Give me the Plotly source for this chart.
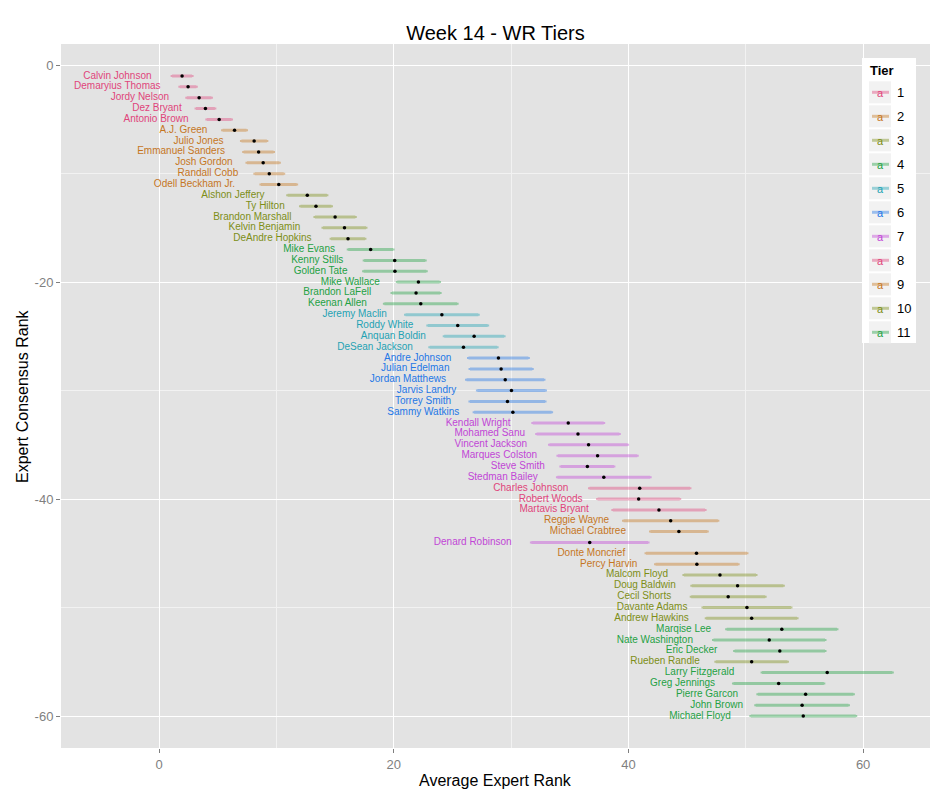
import plotly.graph_objects as go

# Week 14 WR tiers: consensus rank order, average expert rank and std dev
players = [
    "Calvin Johnson", "Demaryius Thomas", "Jordy Nelson", "Dez Bryant", "Antonio Brown",
    "A.J. Green", "Julio Jones", "Emmanuel Sanders", "Josh Gordon", "Randall Cobb",
    "Odell Beckham Jr.", "Alshon Jeffery", "Ty Hilton", "Brandon Marshall", "Kelvin Benjamin",
    "DeAndre Hopkins", "Mike Evans", "Kenny Stills", "Golden Tate", "Mike Wallace",
    "Brandon LaFell", "Keenan Allen", "Jeremy Maclin", "Roddy White", "Anquan Boldin",
    "DeSean Jackson", "Andre Johnson", "Julian Edelman", "Jordan Matthews", "Jarvis Landry",
    "Torrey Smith", "Sammy Watkins", "Kendall Wright", "Mohamed Sanu", "Vincent Jackson",
    "Marques Colston", "Steve Smith", "Stedman Bailey", "Charles Johnson", "Robert Woods",
    "Martavis Bryant", "Reggie Wayne", "Michael Crabtree", "Denard Robinson", "Donte Moncrief",
    "Percy Harvin", "Malcom Floyd", "Doug Baldwin", "Cecil Shorts", "Davante Adams",
    "Andrew Hawkins", "Marqise Lee", "Nate Washington", "Eric Decker", "Rueben Randle",
    "Larry Fitzgerald", "Greg Jennings", "Pierre Garcon", "John Brown", "Michael Floyd",
]
avg_rank = [
    1.96, 2.47, 3.41, 3.95, 5.12, 6.43, 8.1, 8.48, 8.87, 9.39,
    10.2, 12.63, 13.37, 15.0, 15.8, 16.1, 18.03, 20.08, 20.1, 22.1,
    21.9, 22.3, 24.1, 25.45, 26.85, 25.94, 28.92, 29.15, 29.5, 30.03,
    29.69, 30.15, 34.87, 35.7, 36.6, 37.37, 36.5, 37.9, 40.96, 40.87,
    42.6, 43.6, 44.3, 36.7, 45.8, 45.83, 47.8, 49.3, 48.5, 50.1,
    50.5, 53.07, 52.0, 52.9, 50.5, 56.94, 52.8, 55.1, 54.8, 54.9,
]
std_dev = [
    0.85, 0.7, 1.05, 0.8, 1.05, 1.02, 1.08, 1.27, 1.38, 1.23,
    1.52, 1.67, 1.32, 1.72, 1.83, 1.44, 1.91, 2.6, 2.67, 1.8,
    2.05, 3.1, 3.1, 2.55, 2.55, 2.87, 2.55, 2.65, 3.3, 2.9,
    3.2, 3.3, 3.02, 3.52, 3.33, 3.38, 2.26, 3.95, 4.28, 3.5,
    3.93, 4.02, 2.42, 4.97, 4.3, 3.52, 3.07, 3.9, 3.15, 3.75,
    3.87, 4.7, 4.75, 3.85, 3.05, 5.55, 3.85, 4.07, 3.95, 4.47,
]
tiers = (
    [1] * 5 + [2] * 6 + [3] * 5 + [4] * 6 + [5] * 4 + [6] * 6 + [7] * 6
    + [8] * 3 + [9] * 2 + [7] + [9] * 2 + [10] * 5
    + [11, 11, 11, 10, 11, 11, 11, 11, 11]
)
tier_levels = list(range(1, 12))
x_ticks = [0, 20, 40, 60]
y_ticks = [0, -20, -40, -60]

# colour cycle used for the tiers (7 colours, repeating)
palette = ["#E0457B", "#C5761F", "#7D8E17", "#24A144", "#1FA2B3", "#2477E6", "#C146D6"]


def rgba(hex_col, a):
    h = hex_col.lstrip("#")
    r, g, b = int(h[0:2], 16), int(h[2:4], 16), int(h[4:6], 16)
    return f"rgba({r},{g},{b},{a})"


def tier_color(t):
    return palette[(t - 1) % len(palette)]


consensus = [-(i + 1) for i in range(len(players))]

fig = go.Figure()

# error bars + mean points, one trace per tier
for t in tier_levels:
    idx = [i for i, tt in enumerate(tiers) if tt == t]
    fig.add_trace(go.Scatter(
        x=[avg_rank[i] for i in idx],
        y=[consensus[i] for i in idx],
        mode="markers",
        marker=dict(color="black", size=3.5),
        error_x=dict(type="data", array=[std_dev[i] for i in idx], symmetric=True,
                     color=rgba(tier_color(t), 0.42), thickness=3, width=1),
        showlegend=False,
        hoverinfo="skip",
    ))

# player labels, centred left of the bar
label_x = [a - s - len(p) / 3 for a, s, p in zip(avg_rank, std_dev, players)]
fig.add_trace(go.Scatter(
    x=label_x,
    y=consensus,
    mode="text",
    text=players,
    textposition="middle center",
    textfont=dict(family="Liberation Sans, Arial, sans-serif", size=10,
                  color=[tier_color(t) for t in tiers]),
    showlegend=False,
    hoverinfo="skip",
))

# plot area in pixels: x 61..930, y 44..748
L, R, T, B = 61, 930, 44, 748


def px_x(p):
    return (p - L) / (R - L)


def px_y(p):
    return (B - p) / (B - T)


shapes = []
annotations = []

# manual ggplot-like legend
shapes.append(dict(type="rect", xref="paper", yref="paper",
                   x0=px_x(862), x1=px_x(916), y0=px_y(343), y1=px_y(58),
                   fillcolor="white", line=dict(width=0), layer="above"))
annotations.append(dict(xref="paper", yref="paper", x=px_x(868), y=px_y(70),
                        text="<b>Tier</b>", showarrow=False, xanchor="left", yanchor="middle",
                        font=dict(size=13, color="black")))
for k, t in enumerate(tier_levels):
    cy = 92.3 + 24 * k
    col = tier_color(t)
    shapes.append(dict(type="rect", xref="paper", yref="paper",
                       x0=px_x(869), x1=px_x(891), y0=px_y(cy + 11), y1=px_y(cy - 11),
                       fillcolor="#F2F2F2", line=dict(width=0), layer="above"))
    shapes.append(dict(type="line", xref="paper", yref="paper",
                       x0=px_x(872), x1=px_x(889), y0=px_y(cy), y1=px_y(cy),
                       line=dict(color=rgba(col, 0.42), width=3), layer="above"))
    annotations.append(dict(xref="paper", yref="paper", x=px_x(880), y=px_y(cy + 1),
                            text="a", showarrow=False, xanchor="center", yanchor="middle",
                            font=dict(size=11, color=col)))
    annotations.append(dict(xref="paper", yref="paper", x=px_x(895), y=px_y(cy),
                            text=str(t), showarrow=False, xanchor="left", yanchor="middle",
                            font=dict(size=13, color="black")))

# axis titles
annotations.append(dict(xref="paper", yref="paper", x=0.5, y=px_y(780),
                        text="Average Expert Rank", showarrow=False,
                        xanchor="center", yanchor="middle", font=dict(size=16, color="black")))
annotations.append(dict(xref="paper", yref="paper", x=px_x(22), y=0.5,
                        text="Expert Consensus Rank", showarrow=False, textangle=-90,
                        xanchor="center", yanchor="middle", font=dict(size=16, color="black")))

fig.update_layout(
    width=950,
    height=800,
    margin=dict(l=L, r=950 - R, t=T, b=800 - B),
    paper_bgcolor="white",
    plot_bgcolor="#E3E3E3",
    font=dict(family="Liberation Sans, Arial, sans-serif"),
    title=dict(text="Week 14 - WR Tiers", x=0.5, xref="paper", y=1 - 33 / 800,
               yanchor="middle", font=dict(size=20, color="black")),
    shapes=shapes,
    annotations=annotations,
    showlegend=False,
)
fig.update_xaxes(
    range=[-8.36, 65.7], tickvals=x_ticks, ticktext=[str(v) for v in x_ticks],
    showgrid=True, gridcolor="white",
    gridwidth=1.4, zeroline=False, ticks="outside", ticklen=4, tickcolor="#7F7F7F",
    tickfont=dict(size=13, color="#7F7F7F"),
    minor=dict(tickvals=[10, 30, 50], showgrid=True, gridcolor="#F2F2F2", gridwidth=0.7),
)
fig.update_yaxes(
    range=[-62.95, 1.95], tickvals=y_ticks, ticktext=[str(v) for v in y_ticks],
    showgrid=True, gridcolor="white",
    gridwidth=1.4, zeroline=False, ticks="outside", ticklen=4, tickcolor="#7F7F7F",
    tickfont=dict(size=13, color="#7F7F7F"),
    minor=dict(tickvals=[-10, -30, -50], showgrid=True, gridcolor="#F2F2F2", gridwidth=0.7),
)

fig.write_html("out.html", config={"displayModeBar": False},
               post_script="document.body.style.margin = '0px';")
